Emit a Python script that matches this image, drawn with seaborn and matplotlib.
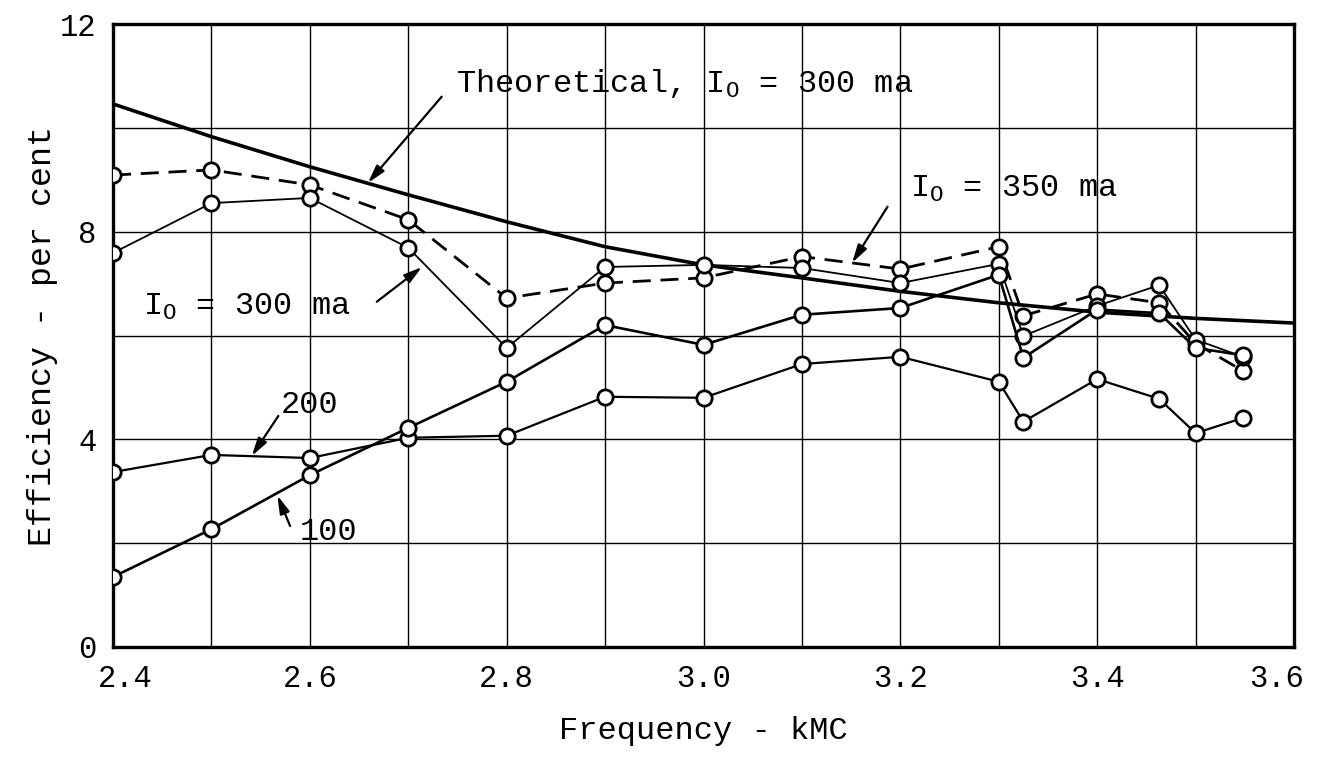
import numpy as np
import pandas as pd
import matplotlib
matplotlib.use("Agg")
import matplotlib.pyplot as plt
import matplotlib.transforms as mtransforms
from matplotlib.ticker import MultipleLocator, FixedLocator
import seaborn as sns

# Frequency (kMC) and efficiency (per cent) readings
freq_theory = [2.4, 2.5, 2.6, 2.7, 2.8, 2.9, 3.0, 3.1, 3.2, 3.3, 3.4, 3.5, 3.6]
eff_theory = [10.46, 9.83, 9.25, 8.71, 8.19, 7.71, 7.36, 7.11, 6.85, 6.63, 6.45, 6.33, 6.24]

freq_meas = [2.4, 2.5, 2.6, 2.7, 2.8, 2.9, 3.0, 3.1, 3.2, 3.3, 3.325, 3.4, 3.463, 3.5, 3.548]
eff_350 = [9.09, 9.19, 8.90, 8.23, 6.72, 7.01, 7.11, 7.52, 7.28, 7.71, 6.38, 6.80, 6.63, 5.85, 5.32]
eff_300 = [7.59, 8.55, 8.65, 7.69, 5.76, 7.32, 7.36, 7.30, 7.01, 7.38, 5.99, 6.57, 6.97, 5.92, 5.59]
eff_200 = [3.37, 3.70, 3.64, 4.03, 4.07, 4.82, 4.80, 5.45, 5.59, 5.11, 4.34, 5.16, 4.78, 4.12, 4.41]
eff_100 = [1.35, 2.27, 3.31, 4.22, 5.11, 6.20, 5.82, 6.40, 6.53, 7.17, 5.57, 6.50, 6.43, 5.76, 5.62]

x_ticks = [2.4, 2.6, 2.8, 3.0, 3.2, 3.4, 3.6]
x_tick_labels = ["2.4", "2.6", "2.8", "3.0", "3.2", "3.4", "3.6"]
y_ticks = [0, 4, 8, 12]
y_tick_labels = ["0", "4", "8", "12"]

sns.set_theme(style="white")
FONT = "Liberation Mono"
plt.rcParams["font.family"] = [FONT, "DejaVu Sans Mono"]
plt.rcParams["mathtext.fontset"] = "custom"
plt.rcParams["mathtext.rm"] = FONT
plt.rcParams["mathtext.it"] = FONT

fig = plt.figure(figsize=(13.21, 7.58), dpi=100)
ax = fig.add_axes([113 / 1321, 111 / 758, 1181 / 1321, 623 / 758])

# grid every 0.1 kMC and every 2 per cent
ax.set_xlim(2.4, 3.6)
ax.set_ylim(0, 12)
ax.xaxis.set_major_locator(FixedLocator(x_ticks))
ax.xaxis.set_minor_locator(MultipleLocator(0.1))
ax.yaxis.set_major_locator(FixedLocator(y_ticks))
ax.yaxis.set_minor_locator(MultipleLocator(2))
ax.grid(True, which="both", color="black", linewidth=1.0)
ax.set_axisbelow(True)
ax.set_xticklabels(x_tick_labels)
ax.set_yticklabels(y_tick_labels)
ax.tick_params(which="both", length=0, labelsize=22, colors="black")
ax.tick_params(axis="x", pad=12)
ax.tick_params(axis="y", pad=12)
for s in ax.spines.values():
    s.set_visible(True)
    s.set_color("black")
    s.set_linewidth(2.4)

# nudge the end labels inward so they clear the frame corners
xlabels = ax.get_xticklabels()
xlabels[0].set_transform(xlabels[0].get_transform() +
                         mtransforms.ScaledTranslation(12 / 100, 0, fig.dpi_scale_trans))
xlabels[-1].set_transform(xlabels[-1].get_transform() +
                          mtransforms.ScaledTranslation(-18 / 100, 0, fig.dpi_scale_trans))

mk = dict(marker="o", markersize=11, markerfacecolor="white",
          markeredgecolor="black", markeredgewidth=2.0)

# theoretical curve
sns.lineplot(x=freq_theory, y=eff_theory, ax=ax, color="black", linewidth=2.6,
             legend=False, zorder=3)

# measured curves
series = [
    (eff_350, dict(linewidth=2.0, linestyle=(0, (6.5, 3.5)))),
    (eff_300, dict(linewidth=1.3, linestyle="-")),
    (eff_200, dict(linewidth=1.6, linestyle="-")),
    (eff_100, dict(linewidth=1.9, linestyle="-")),
]
for vals, style in series:
    df = pd.DataFrame({"freq": freq_meas, "eff": vals})
    sns.lineplot(data=df, x="freq", y="eff", ax=ax, color="black",
                 legend=False, zorder=4, **style, **mk)

ax.set_xlabel("Frequency - kMC", fontsize=23, color="black", labelpad=16)
ax.set_ylabel("Efficiency - per cent", fontsize=24, color="black", labelpad=1)

arrow = dict(arrowstyle="-|>,head_length=0.9,head_width=0.25", color="black",
             lw=1.6, shrinkA=0, shrinkB=0)
tk = dict(fontsize=23, color="black")

ax.text(2.749, 10.69, r"Theoretical, I$_{\mathrm{O}}$ = 300 ma", ha="left", va="baseline", **tk)
ax.annotate("", xy=(2.659, 8.94), xytext=(2.734, 10.60), arrowprops=arrow)

ax.text(3.210, 8.67, r"I$_{\mathrm{O}}$ = 350 ma", ha="left", va="baseline", **tk)
ax.annotate("", xy=(3.151, 7.40), xytext=(3.187, 8.48), arrowprops=arrow)

ax.text(2.430, 6.40, r"I$_{\mathrm{O}}$ = 300 ma", ha="left", va="baseline", **tk)
ax.annotate("", xy=(2.714, 7.32), xytext=(2.668, 6.65), arrowprops=arrow)

ax.text(2.570, 4.51, "200", ha="left", va="baseline", **tk)
ax.annotate("", xy=(2.541, 3.68), xytext=(2.568, 4.45), arrowprops=arrow)

ax.text(2.590, 2.06, "100", ha="left", va="baseline", **tk)
ax.annotate("", xy=(2.567, 2.92), xytext=(2.580, 2.33), arrowprops=arrow)

fig.savefig("out.png", dpi=100, facecolor="white")
